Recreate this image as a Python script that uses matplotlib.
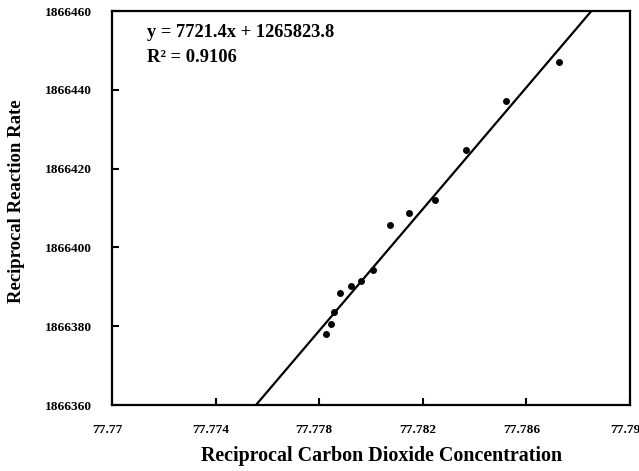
import matplotlib
matplotlib.use("Agg")
import matplotlib.pyplot as plt
import matplotlib.transforms as mtransforms
import numpy as np

# Data
x_vals = [77.77826, 77.77846, 77.77857, 77.77879, 77.77922, 77.77961, 77.78008,
          77.78073, 77.78146, 77.78247, 77.78366, 77.78521, 77.78725]
y_vals = [1866377.9, 1866380.6, 1866383.7, 1866388.4, 1866390.2, 1866391.4, 1866394.2,
          1866405.7, 1866408.7, 1866412.0, 1866424.7, 1866437.2, 1866447.1]
slope = 7721.4
intercept = 1265823.8
r_squared = 0.9106

x_ticks = [77.77, 77.774, 77.778, 77.782, 77.786, 77.79]
x_tick_labels = ["77.77", "77.774", "77.778", "77.782", "77.786", "77.79"]
y_ticks = [1866360, 1866380, 1866400, 1866420, 1866440, 1866460]
y_tick_labels = ["1866360", "1866380", "1866400", "1866420", "1866440", "1866460"]

plt.rcParams['font.family'] = ['Liberation Serif', 'DejaVu Serif']
plt.rcParams['font.weight'] = 'bold'

fig = plt.figure(figsize=(6.39, 4.71), dpi=100)
ax = fig.add_axes([112/639, 1 - 405/471, (630-112)/639, (405-11)/471])

ax.scatter(x_vals, y_vals, s=25, color='black', zorder=3, linewidths=0)

xl = np.array([x_ticks[0], x_ticks[-1]])
ax.plot(xl, slope * xl + intercept, color='black', lw=1.6, zorder=2)

ax.set_xlim(x_ticks[0], x_ticks[-1])
ax.set_ylim(y_ticks[0], y_ticks[-1])
ax.set_xticks(x_ticks)
ax.set_xticklabels(x_tick_labels)
ax.set_yticks(y_ticks)
ax.set_yticklabels(y_tick_labels)

ax.tick_params(direction='in', length=5, width=1.5, labelsize=9.6)
ax.tick_params(axis='x', pad=14)
ax.tick_params(axis='y', pad=14.5)
for s in ax.spines.values():
    s.set_linewidth(1.6)

shift = mtransforms.ScaledTranslation(-5/100, 0, fig.dpi_scale_trans)
for lab in ax.get_xticklabels():
    lab.set_fontweight('bold')
    lab.set_transform(lab.get_transform() + shift)
for lab in ax.get_yticklabels():
    lab.set_fontweight('bold')

ax.set_xlabel("Reciprocal Carbon Dioxide Concentration", fontsize=14.4, fontweight='bold')
ax.xaxis.set_label_coords(0.521, -0.105)
ax.set_ylabel("Reciprocal Reaction Rate", fontsize=13.5, fontweight='bold')
ax.yaxis.set_label_coords(-0.168, 0.518)

ax.text(0.067, 0.945, "y = 7721.4x + 1265823.8", transform=ax.transAxes,
        fontsize=13.3, fontweight='bold', va='center', ha='left')
ax.text(0.067, 0.882, "R\u00b2 = %.4f" % r_squared, transform=ax.transAxes,
        fontsize=13.3, fontweight='bold', va='center', ha='left')

fig.savefig("out.png", dpi=100)
